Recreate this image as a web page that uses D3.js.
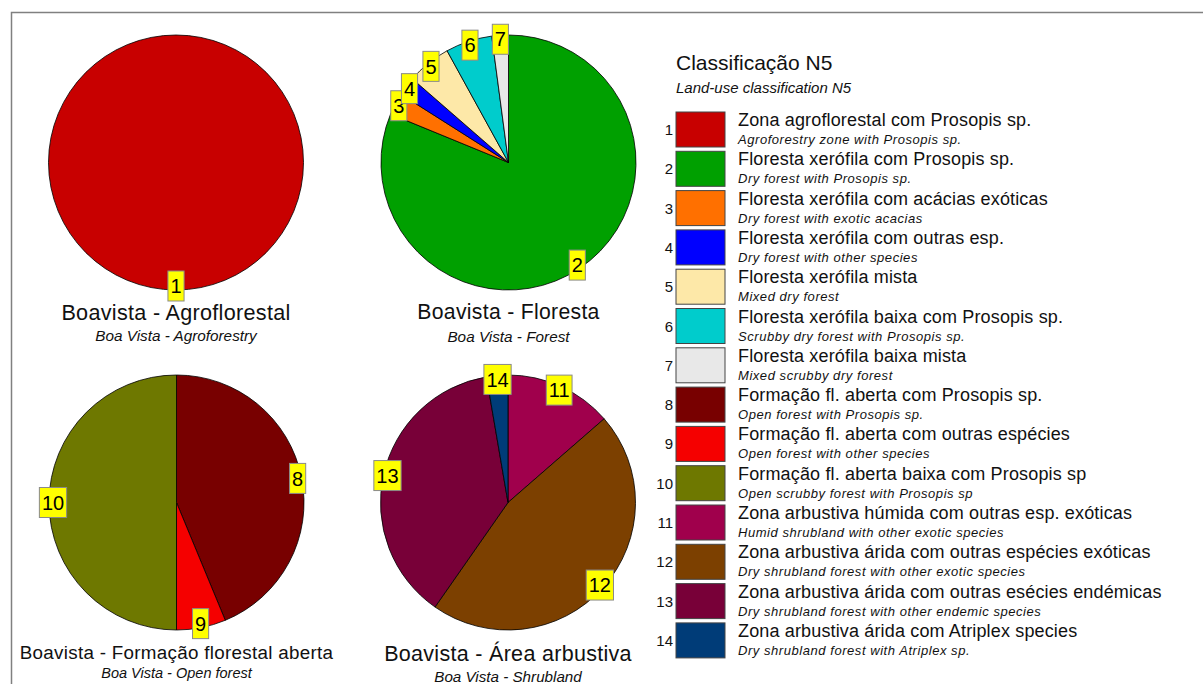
<!DOCTYPE html>
<html>
<head>
<meta charset="utf-8">
<script src="https://cdn.jsdelivr.net/npm/d3@7"></script>
<style>
  body { margin: 0; background: #fff; }
  svg { display: block; font-family: "Liberation Sans", Arial, sans-serif; }
</style>
</head>
<body>
<svg id="chart" width="1203" height="684"></svg>
<script>
// legend classes
const classIds = [1, 2, 3, 4, 5, 6, 7, 8, 9, 10, 11, 12, 13, 14];
const classNamesPt = [
  'Zona agroflorestal com Prosopis sp.',
  'Floresta xerófila com Prosopis sp.',
  'Floresta xerófila com acácias exóticas',
  'Floresta xerófila com outras esp.',
  'Floresta xerófila mista',
  'Floresta xerófila baixa com Prosopis sp.',
  'Floresta xerófila baixa mista',
  'Formação fl. aberta com Prosopis sp.',
  'Formação fl. aberta com outras espécies',
  'Formação fl. aberta baixa com Prosopis sp',
  'Zona arbustiva húmida com outras esp. exóticas',
  'Zona arbustiva árida com outras espécies exóticas',
  'Zona arbustiva árida com outras esécies endémicas',
  'Zona arbustiva árida com Atriplex species'
];
const classNamesEn = [
  'Agroforestry zone with Prosopis sp.',
  'Dry forest with Prosopis sp.',
  'Dry forest with exotic acacias',
  'Dry forest with other species',
  'Mixed dry forest',
  'Scrubby dry forest with Prosopis sp.',
  'Mixed scrubby dry forest',
  'Open forest with Prosopis sp.',
  'Open forest with other species',
  'Open scrubby forest with Prosopis sp',
  'Humid shrubland with other exotic species',
  'Dry shrubland forest with other exotic species',
  'Dry shrubland forest with other endemic species',
  'Dry shrubland forest with Atriplex sp.'
];
const classColors = ['#c80000', '#00a000', '#ff7000', '#0000ff', '#fde8a8', '#00cccc', '#e8e8e8',
  '#780000', '#f50000', '#6e7800', '#a0004c', '#7c4000', '#780038', '#003c78'];

// pies
const pieTitles = ['Boavista - Agroflorestal', 'Boavista - Floresta',
  'Boavista - Formação florestal aberta', 'Boavista - Área arbustiva'];
const pieSubtitles = ['Boa Vista - Agroforestry', 'Boa Vista - Forest',
  'Boa Vista - Open forest', 'Boa Vista - Shrubland'];
const pieClasses = [[1], [2, 3, 4, 5, 6, 7], [8, 9, 10], [11, 12, 13, 14]];
const pieShares = [[100], [81.2, 2.8, 2.4, 5.6, 5.9, 2.1], [43.75, 6.25, 50], [13.6, 46.1, 37.6, 2.7]];

const legendTitle = 'Classificação N5';
const legendSubtitle = 'Land-use classification N5';

const svg = d3.select('#chart');
const radius = 127.5;
const centers = [[176, 162.5], [508.5, 162.5], [176.5, 502.5], [508, 502.5]];
const titleDy = [[157.5, 178.5], [156, 179], [156, 175], [158, 179]];
const titleSize = [21.6, 21.2, 18.8, 21.5];
const subSize = [15.3, 15.3, 14.5, 15.2];

// frame
svg.append('path')
  .attr('d', 'M11.5,684 V12.5 H1203')
  .attr('fill', 'none')
  .attr('stroke', '#808080')
  .attr('stroke-width', 1.5);

const color = d3.scaleOrdinal().domain(classIds).range(classColors);
const pie = d3.pie().sort(null).value(d => d.v);
const arc = d3.arc().innerRadius(0).outerRadius(radius);
const labelArc = d3.arc().innerRadius(radius - 4).outerRadius(radius - 4);

const pieGroups = pieClasses.map((ids, i) => {
  const data = ids.map((id, j) => ({ id, v: pieShares[i][j] }));
  const g = svg.append('g').attr('transform', `translate(${centers[i][0]},${centers[i][1]})`);
  g.selectAll('path')
    .data(pie(data))
    .enter()
    .append('path')
    .attr('d', arc)
    .attr('fill', d => color(d.data.id))
    .attr('stroke', '#000')
    .attr('stroke-width', 0.8);

  g.append('text')
    .attr('y', titleDy[i][0])
    .attr('text-anchor', 'middle')
    .attr('font-size', titleSize[i])
    .attr('letter-spacing', 0.3)
    .attr('fill', '#111')
    .text(pieTitles[i]);
  g.append('text')
    .attr('y', titleDy[i][1])
    .attr('text-anchor', 'middle')
    .attr('font-size', subSize[i])
    .attr('font-style', 'italic')
    .attr('fill', '#111')
    .text(pieSubtitles[i]);
  return { g, data };
});

// number labels on top
pieGroups.forEach(({ g, data }) => {
  const labs = g.selectAll('g.lab')
    .data(pie(data))
    .enter()
    .append('g')
    .attr('class', 'lab')
    .attr('transform', d => `translate(${labelArc.centroid(d)})`);
  labs.append('rect');
  labs.append('text')
    .attr('text-anchor', 'middle')
    .attr('dy', '0.36em')
    .attr('font-size', 20)
    .attr('fill', '#000')
    .text(d => d.data.id);
  labs.each(function() {
    const w = d3.select(this).select('text').node().getComputedTextLength() + 5;
    d3.select(this).select('rect')
      .attr('x', -w / 2).attr('y', -15)
      .attr('width', w).attr('height', 30)
      .attr('fill', '#ffff00')
      .attr('stroke', '#8a8a8a')
      .attr('stroke-width', 1);
  });
});

// legend
const lx = 676, ly = 112, rowH = 39.3;
svg.append('text').attr('x', lx).attr('y', 70)
  .attr('font-size', 21).attr('fill', '#111').text(legendTitle);
svg.append('text').attr('x', lx).attr('y', 93)
  .attr('font-size', 15).attr('font-style', 'italic').attr('fill', '#111').text(legendSubtitle);

const rows = svg.selectAll('g.row')
  .data(classIds)
  .enter()
  .append('g')
  .attr('class', 'row')
  .attr('transform', (d, i) => `translate(${lx},${ly + i * rowH})`);

rows.append('rect')
  .attr('width', 49).attr('height', 35)
  .attr('fill', d => color(d))
  .attr('stroke', '#444').attr('stroke-width', 1);
rows.append('text')
  .attr('x', -3).attr('y', 23)
  .attr('text-anchor', 'end')
  .attr('font-size', 15).attr('fill', '#111')
  .text(d => d);
rows.append('text')
  .attr('x', 62).attr('y', 14)
  .attr('font-size', 18).attr('letter-spacing', 0.15).attr('fill', '#111')
  .text((d, i) => classNamesPt[i]);
rows.append('text')
  .attr('x', 62).attr('y', 32)
  .attr('font-size', 13).attr('font-style', 'italic').attr('letter-spacing', 0.55).attr('fill', '#111')
  .text((d, i) => classNamesEn[i]);
</script>
</body>
</html>
